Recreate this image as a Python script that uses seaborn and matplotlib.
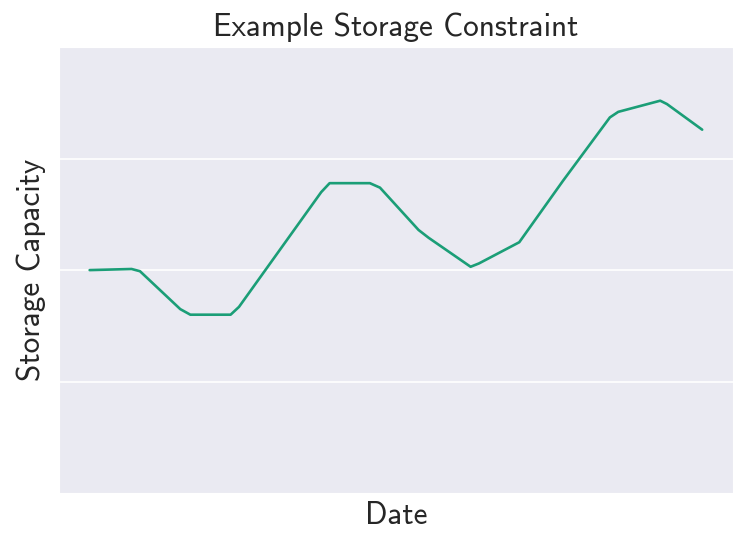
import numpy as np
import pandas as pd
import matplotlib
matplotlib.use("Agg")
import matplotlib.pyplot as plt
import seaborn as sns

# storage level
dates = ["2020-01-01", "2020-01-26", "2020-01-31", "2020-02-24", "2020-03-01",
         "2020-03-25", "2020-03-30", "2020-05-18", "2020-05-23", "2020-06-16",
         "2020-06-22", "2020-07-15", "2020-07-21", "2020-08-15", "2020-08-20",
         "2020-09-13", "2020-10-09", "2020-11-06", "2020-11-11", "2020-12-06",
         "2020-12-10", "2020-12-31"]
capacity = [2.00, 2.01, 1.99, 1.65, 1.60,
            1.60, 1.67, 2.70, 2.78, 2.78,
            2.74, 2.36, 2.29, 2.03, 2.06,
            2.25, 2.80, 3.37, 3.42, 3.52,
            3.49, 3.26]
grid_levels = [1, 2, 3]

df = pd.DataFrame({"Date": pd.to_datetime(dates), "Storage Capacity": capacity})

sns.set_style("darkgrid")
plt.rcParams["font.family"] = ["cmss10", "DejaVu Sans"]
plt.rcParams["axes.formatter.use_mathtext"] = True

fig = plt.figure(figsize=(7.47, 5.47), dpi=100)
ax = fig.add_axes([0.079, 0.0987, 0.902, 0.815])
sns.lineplot(data=df, x="Date", y="Storage Capacity", color="#1b9e77", linewidth=1.9, ax=ax)

ax.set_ylim(0, 4)
ax.set_yticks(grid_levels)
ax.set_yticklabels([])
ax.set_xticks([])
ax.tick_params(length=0)
ax.grid(linewidth=1.2)
ax.set_title("Example Storage Constraint", fontsize=22.5, pad=8)
ax.set_xlabel("Date", fontsize=22.5, labelpad=6)
ax.set_ylabel("Storage Capacity", fontsize=22.5, labelpad=6)

fig.savefig("out.png", dpi=100)
